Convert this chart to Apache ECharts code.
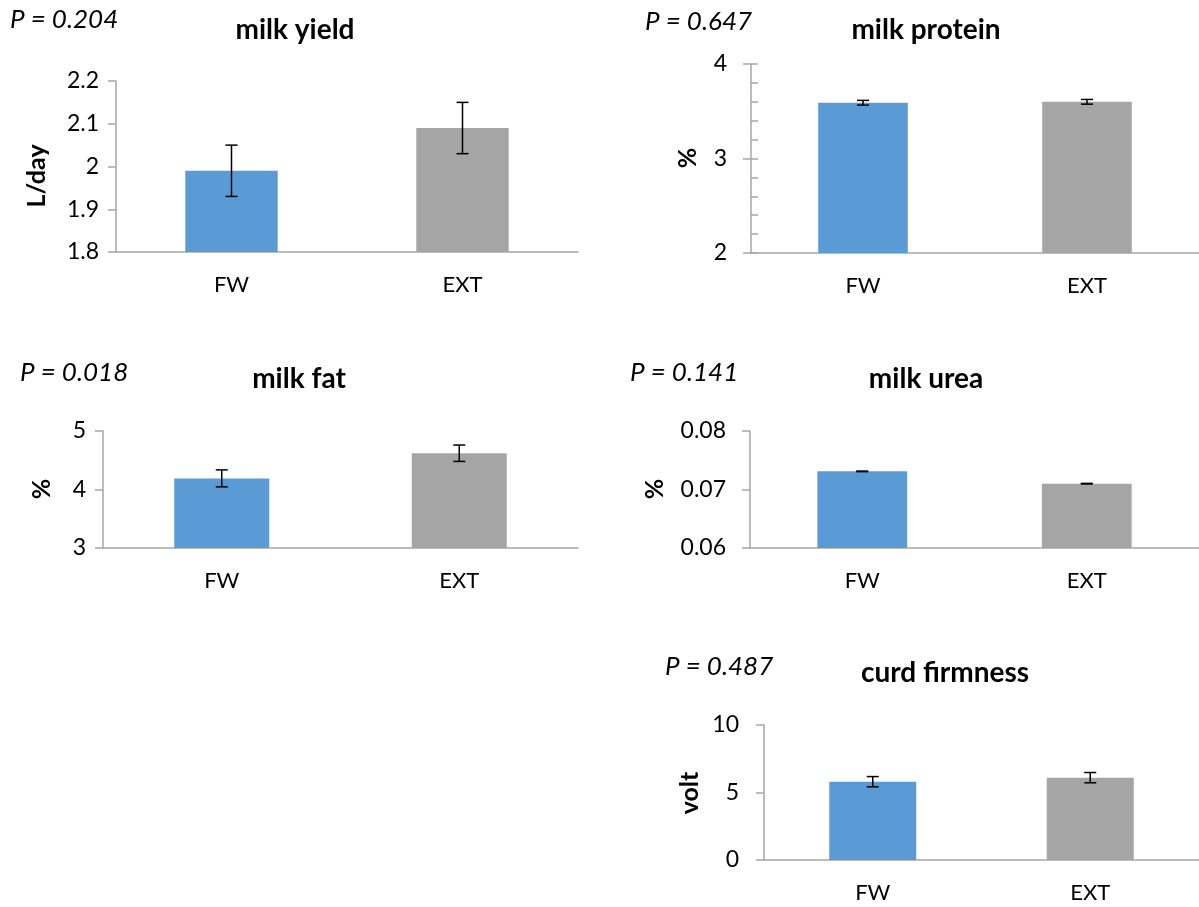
<!DOCTYPE html>
<html>
<head>
<meta charset="utf-8">
<script src="https://cdn.jsdelivr.net/npm/echarts@6/dist/echarts.min.js"></script>
<style>
html,body{margin:0;padding:0;background:#fff;}
#chart{width:1199px;height:907px;}
</style>
</head>
<body>
<div id="chart"></div>
<script>
// ---- data ----
const categories = ['FW', 'EXT'];
const barColors = ['#5B9BD5', '#A5A5A5'];

const yieldMean = [1.99, 2.09];
const yieldErr = [0.06, 0.06];
const proteinMean = [3.59, 3.60];
const proteinErr = [0.025, 0.025];
const fatMean = [4.19, 4.62];
const fatErr = [0.145, 0.14];
const ureaMean = [0.0731, 0.0710];
const ureaErr = [0.00005, 0.00005];
const curdMean = [5.8, 6.1];
const curdErr = [0.38, 0.38];

const titles = ['milk yield', 'milk protein', 'milk fat', 'milk urea', 'curd firmness'];
const pValues = ['P = 0.204', 'P = 0.647', 'P = 0.018', 'P = 0.141', 'P = 0.487'];
const yNames = ['L/day', '%', '%', '%', 'volt'];
const yRanges = [[1.8, 2.2, 0.1], [2, 4, 1], [3, 5, 1], [0.06, 0.08, 0.01], [0, 10, 5]];

const panels = [
  {mean: yieldMean, err: yieldErr},
  {mean: proteinMean, err: proteinErr},
  {mean: fatMean, err: fatErr},
  {mean: ureaMean, err: ureaErr},
  {mean: curdMean, err: curdErr}
];

// ---- layout ----
const FONT = 'Lato, "Open Sans", sans-serif';
const grids = [
  {left: 116, top: 81, width: 462, height: 171},
  {left: 751, top: 64, width: 448, height: 189},
  {left: 103, top: 431, width: 475, height: 117},
  {left: 750, top: 431, width: 449, height: 117},
  {left: 764, top: 725, width: 435, height: 135}
];
const labelMargins = [17, 24, 17, 24, 25];
const titlePos = [[295, 30], [926, 30], [299, 379], [926, 379], [945, 673]];
const pPos = [[10, 20], [645, 22], [20, 373], [630, 373], [665, 667]];
const yNamePos = [[37, 176], [688, 158], [42, 489], [655, 489], [690, 793]];

const axisColor = '#A6A6A6';

const option = {
  animation: false,
  backgroundColor: '#fff',
  textStyle: {fontFamily: FONT},
  grid: grids,
  xAxis: grids.map((g, i) => ({
    type: 'category',
    gridIndex: i,
    data: categories,
    axisLine: {lineStyle: {color: axisColor, width: 1.5}},
    axisTick: {show: false},
    axisLabel: {color: '#000', fontSize: 22, fontFamily: FONT, margin: 22}
  })),
  yAxis: [],
  series: [],
  graphic: []
};

yRanges.forEach((r, i) => {
  option.yAxis.push({
    type: 'value',
    gridIndex: i,
    position: 'left',
    min: r[0], max: r[1], interval: r[2],
    axisLine: {show: true, lineStyle: {color: axisColor, width: 1.5}},
    axisTick: {show: true, inside: false, length: 8, lineStyle: {color: axisColor, width: 1.5}},
    splitLine: {show: false},
    axisLabel: {color: '#000', fontSize: 23, fontFamily: FONT, margin: labelMargins[i]}
  });
});
// inner minor ticks for milk protein
option.yAxis.push({
  type: 'value',
  gridIndex: 1,
  position: 'left',
  offset: 0,
  min: 2, max: 4, interval: 0.2,
  axisLine: {show: false},
  axisTick: {show: true, inside: true, length: 7, lineStyle: {color: axisColor, width: 1.5}},
  axisLabel: {show: false},
  splitLine: {show: false}
});

panels.forEach((p, i) => {
  option.series.push({
    type: 'bar',
    xAxisIndex: i,
    yAxisIndex: i,
    barWidth: '40%',
    data: p.mean.map((v, k) => ({value: v, itemStyle: {color: barColors[k]}}))
  });
  option.series.push({
    type: 'custom',
    xAxisIndex: i,
    yAxisIndex: i,
    z: 10,
    data: p.mean.map((v, k) => [k, v - p.err[k], v + p.err[k]]),
    renderItem: function (params, api) {
      const lo = api.coord([api.value(0), api.value(1)]);
      const hi = api.coord([api.value(0), api.value(2)]);
      const half = 6;
      const style = {stroke: '#000', lineWidth: 1.5};
      return {
        type: 'group',
        children: [
          {type: 'line', shape: {x1: lo[0], y1: lo[1], x2: hi[0], y2: hi[1]}, style: style},
          {type: 'line', shape: {x1: lo[0] - half, y1: lo[1], x2: lo[0] + half, y2: lo[1]}, style: style},
          {type: 'line', shape: {x1: hi[0] - half, y1: hi[1], x2: hi[0] + half, y2: hi[1]}, style: style}
        ]
      };
    }
  });
  option.graphic.push({
    type: 'text', x: titlePos[i][0], y: titlePos[i][1],
    style: {text: titles[i], font: 'bold 28px ' + FONT, fill: '#000', textAlign: 'center', textVerticalAlign: 'middle'}
  });
  option.graphic.push({
    type: 'text', x: pPos[i][0], y: pPos[i][1],
    style: {text: pValues[i], font: 'italic 26px ' + FONT, fill: '#000', textAlign: 'left', textVerticalAlign: 'middle'}
  });
  option.graphic.push({
    type: 'text', x: yNamePos[i][0], y: yNamePos[i][1], rotation: Math.PI / 2,
    style: {text: yNames[i], font: 'bold 25px ' + FONT, fill: '#000', textAlign: 'center', textVerticalAlign: 'middle'}
  });
});

const chart = echarts.init(document.getElementById('chart'), null, {renderer: 'canvas'});
chart.setOption(option);
</script>
</body>
</html>
